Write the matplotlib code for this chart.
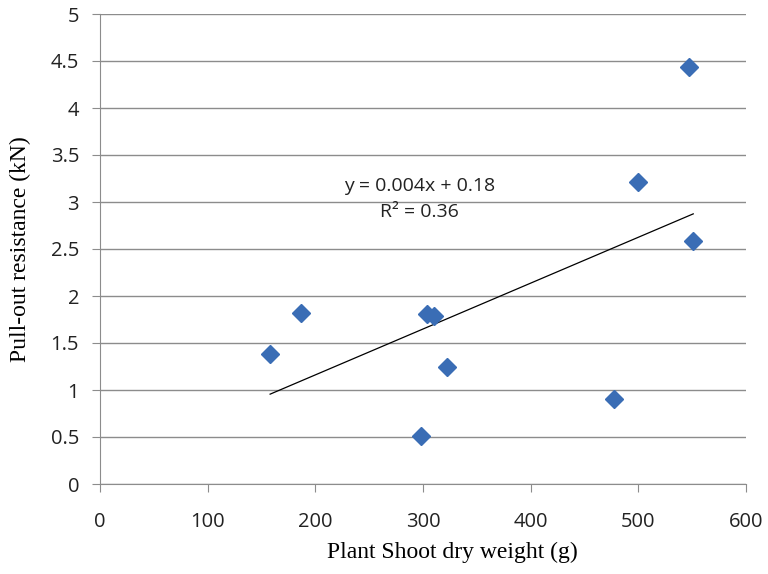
import matplotlib
matplotlib.use("Agg")
import matplotlib.pyplot as plt
import numpy as np

shoot_weight = [158, 187, 298, 304, 310, 322, 477, 500, 547, 551]
pullout = [1.38, 1.82, 0.51, 1.81, 1.79, 1.24, 0.90, 3.21, 4.44, 2.58]
x_ticks = [0, 100, 200, 300, 400, 500, 600]
y_ticks = [0, 0.5, 1, 1.5, 2, 2.5, 3, 3.5, 4, 4.5, 5]
eq_text = "y = 0.004x + 0.18"
r2_text = "R² = 0.36"

fig = plt.figure(figsize=(7.68, 5.74), dpi=100)
ax = fig.add_axes([100/768, 90/574, 646/768, 470/574])

x = np.array(shoot_weight, dtype=float)
y = np.array(pullout, dtype=float)
m, b = np.polyfit(x, y, 1)
xl = np.array([x.min(), x.max()])
ax.plot(xl, m*xl + b, color='black', lw=0.9, zorder=3)
ax.plot(x, y, linestyle='none', marker='D', markersize=9, color='#3A6DB5',
        markeredgecolor='#3A6DB5', zorder=4)

ax.set_xlim(0, 600)
ax.set_ylim(0, 5)
ax.set_xticks(x_ticks)
ax.set_yticks(y_ticks)
ax.set_yticklabels([f"{v:g}" for v in y_ticks])
ax.grid(axis='y', color='#8c8c8c', lw=1)
ax.set_axisbelow(True)
for s in ['top', 'right']:
    ax.spines[s].set_visible(False)
for s in ['left', 'bottom']:
    ax.spines[s].set_color('#8c8c8c')
ax.tick_params(axis='both', color='#8c8c8c', length=6, labelsize=14.5,
               labelcolor='#222222')
ax.tick_params(axis='x', pad=14)
ax.tick_params(axis='y', pad=9)
for lab in ax.get_xticklabels() + ax.get_yticklabels():
    lab.set_family('Open Sans')

ax.set_xlabel("Plant Shoot dry weight (g)", family='Liberation Serif', fontsize=17, labelpad=8)
ax.xaxis.set_label_coords(0.545, -0.124)
ax.set_ylabel("Pull-out resistance (kN)", family='Liberation Serif', fontsize=17, labelpad=14)

ax.text(297, 3.17, eq_text, ha='center', va='center', family='Open Sans', fontsize=14, color='#222222')
ax.text(297, 2.89, r2_text, ha='center', va='center', family='Open Sans', fontsize=14, color='#222222')

fig.savefig("out.png", dpi=100)
